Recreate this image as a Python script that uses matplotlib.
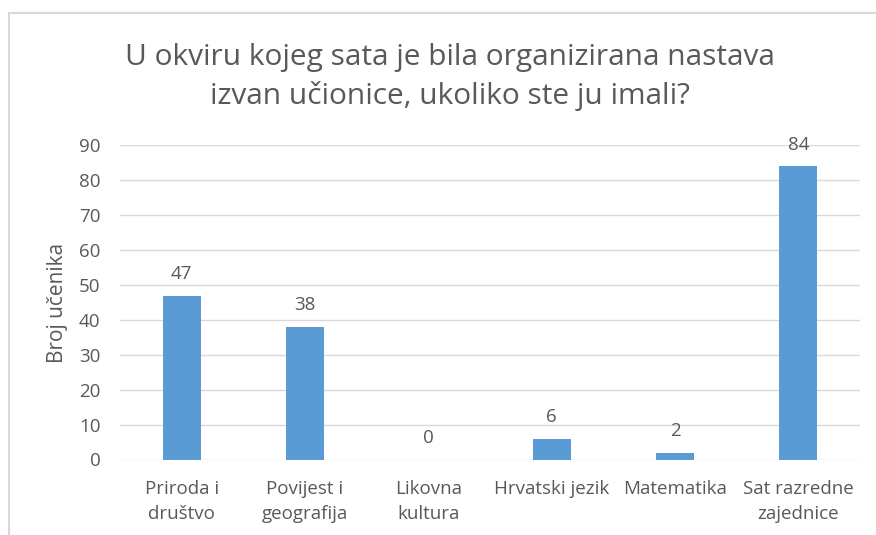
"""Excel-style bar chart: nastava izvan učionice po predmetima."""

import matplotlib.pyplot as plt
from matplotlib.patches import Rectangle

categories = [
    "Priroda i\ndruštvo",
    "Povijest i\ngeografija",
    "Likovna\nkultura",
    "Hrvatski jezik",
    "Matematika",
    "Sat razredne\nzajednice",
]
counts = [47, 38, 0, 6, 2, 84]
y_ticks = list(range(0, 100, 10))

title = "U okviru kojeg sata je bila organizirana nastava\nizvan učionice, ukoliko ste ju imali?"
y_label = "Broj učenika"

TEXT = "#595959"
BAR = "#5B9BD5"
GRID = "#D9D9D9"

plt.rcParams["font.family"] = ["Open Sans", "DejaVu Sans"]

fig = plt.figure(figsize=(8.76, 5.35), dpi=100)
ax = fig.add_axes([120 / 876, 1 - 459.5 / 535, 740 / 876, (459.5 - 145.5) / 535])

# Chart border (top and left visible, the rest is cropped off)
fig.patches.append(Rectangle((8.5 / 876, -0.1), 1.2, 1.1 - 13 / 535,
                             transform=fig.transFigure, fill=False,
                             edgecolor=GRID, linewidth=1.5))

x = range(len(categories))
ax.bar(x, counts, width=0.31, color=BAR, zorder=3)
for xi, v in zip(x, counts):
    ax.annotate(str(v), (xi, v), xytext=(0, 9), textcoords="offset points",
                ha="center", va="bottom", fontsize=13.5, color=TEXT)

ax.set_xlim(-0.5, len(categories) - 0.5)
ax.set_ylim(0, 90)
ax.set_yticks(y_ticks)
ax.set_xticks(list(x))
ax.set_xticklabels(categories, fontsize=13.5, color=TEXT, linespacing=1.5)
ax.tick_params(axis="y", labelsize=13.5, labelcolor=TEXT, length=0, pad=14)
ax.tick_params(axis="x", length=0, pad=15)
ax.grid(axis="y", color=GRID, linewidth=1, zorder=0)
for s in ax.spines.values():
    s.set_visible(False)
ax.set_ylabel(y_label, fontsize=15, color=TEXT, labelpad=8)

fig.text(450 / 876, 1 - 77 / 535, title, ha="center", va="center",
         fontsize=21.5, color=TEXT, linespacing=1.4)

fig.savefig("out.png", dpi=100)
